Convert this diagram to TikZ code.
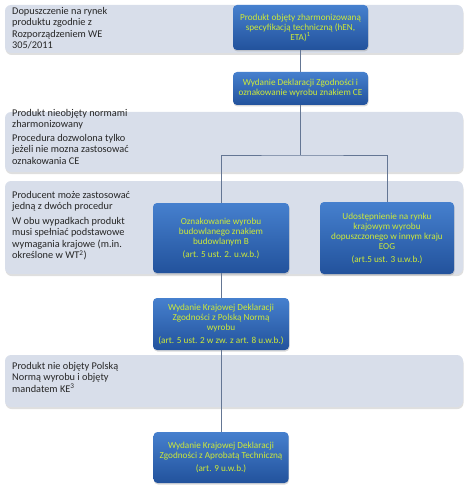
\documentclass[tikz,border=0pt]{standalone}
\usepackage{fontspec}
\setmainfont{Carlito}
\usetikzlibrary{shadows}
\definecolor{bandfill}{RGB}{216,222,234}
\definecolor{boxtop}{RGB}{70,128,206}
\definecolor{boxbot}{RGB}{34,82,156}
\definecolor{boxtext}{RGB}{206,234,56}
\definecolor{linkcol}{RGB}{100,118,148}
\tikzset{
  band/.style={rectangle, rounded corners=6pt, fill=bandfill, minimum width=458pt,
    drop shadow={opacity=0.25, shadow xshift=0.5pt, shadow yshift=-2pt}},
  bandtext/.style={anchor=north west, inner sep=0pt, align=left, text=black!85,
    font=\fontsize{10.3}{11.5}\selectfont},
  bluebox/.style={rectangle, rounded corners=4pt, top color=boxtop, bottom color=boxbot,
    text=boxtext, align=center, inner sep=1pt, font=\fontsize{9.2}{10}\selectfont,
    drop shadow={opacity=0.3, shadow xshift=0.5pt, shadow yshift=-1.5pt}},
  link/.style={draw=linkcol, line width=0.8pt}
}
\begin{document}
\begin{tikzpicture}[x=1pt, y=-1pt]
  \useasboundingbox (0,0) rectangle (474,500);
  % Bands
  \node[band, minimum height=48pt] (bandwe) at (234,29) {};
  \node[band, minimum height=60pt] (bandnh) at (234,142) {};
  \node[band, minimum height=93pt] (bandpr) at (234,227.5) {};
  \node[band, minimum height=52pt] (bandke) at (234,381) {};
  % Band texts
  \node[bandtext] (txtwe) at (12,7) {Dopuszczenie na rynek\\produktu zgodnie z\\Rozporządzeniem WE\\305/2011};
  \node[bandtext] (txtnh) at (12,109) {Produkt nieobjęty normami\\zharmonizowany\\[2pt]Procedura dozwolona tylko\\jeżeli nie mozna zastosować\\oznakowania CE};
  \node[bandtext] (txtpr) at (12,191) {Producent może zastosować\\jedną z dwóch procedur\\[3pt]W obu wypadkach produkt\\musi spełniać podstawowe\\wymagania krajowe (m.in.\\określone w WT\textsuperscript{2})};
  \node[bandtext] (txtke) at (12,362) {Produkt nie objęty Polską\\Normą wyrobu i objęty\\mandatem KE\textsuperscript{3}};
  % Blue boxes
  \node[bluebox, minimum width=135pt, minimum height=45pt] (hen) at (300.5,27.5) {Produkt objęty zharmonizowaną\\specyfikacją techniczną (hEN,\\ETA)\textsuperscript{1}};
  \node[bluebox, minimum width=135pt, minimum height=33pt] (ce) at (300.5,88.5) {Wydanie Deklaracji Zgodności i\\oznakowanie wyrobu znakiem CE};
  \node[bluebox, minimum width=136pt, minimum height=70pt] (znakb) at (221,238) {Oznakowanie wyrobu\\budowlanego znakiem\\budowlanym B\\[3pt](art. 5 ust. 2. u.w.b.)};
  \node[bluebox, minimum width=134pt, minimum height=72pt] (eog) at (387,238) {Udostępnienie na rynku\\krajowym wyrobu\\dopuszczonego w innym kraju\\EOG\\[3pt](art.5 ust. 3 u.w.b.)};
  \node[bluebox, minimum width=136pt, minimum height=52pt] (pn) at (221,324) {Wydanie Krajowej Deklaracji\\Zgodności z Polską Normą\\wyrobu\\[3pt](art. 5 ust. 2 w zw. z art. 8 u.w.b.)};
  \node[bluebox, minimum width=135pt, minimum height=51pt] (at) at (221,457.5) {Wydanie Krajowej Deklaracji\\Zgodności z Aprobatą Techniczną\\[3pt](art. 9 u.w.b.)};
  % Connectors
  \coordinate (fork) at (ce.south |- 0,155);
  \draw[link] (hen) -- (ce);
  \draw[link] (ce) -- (fork);
  \draw[link] (znakb.north) |- (fork) -| (eog.north);
  \draw[link] (znakb) -- (pn);
  \draw[link] (pn) -- (at);
\end{tikzpicture}
\end{document}
